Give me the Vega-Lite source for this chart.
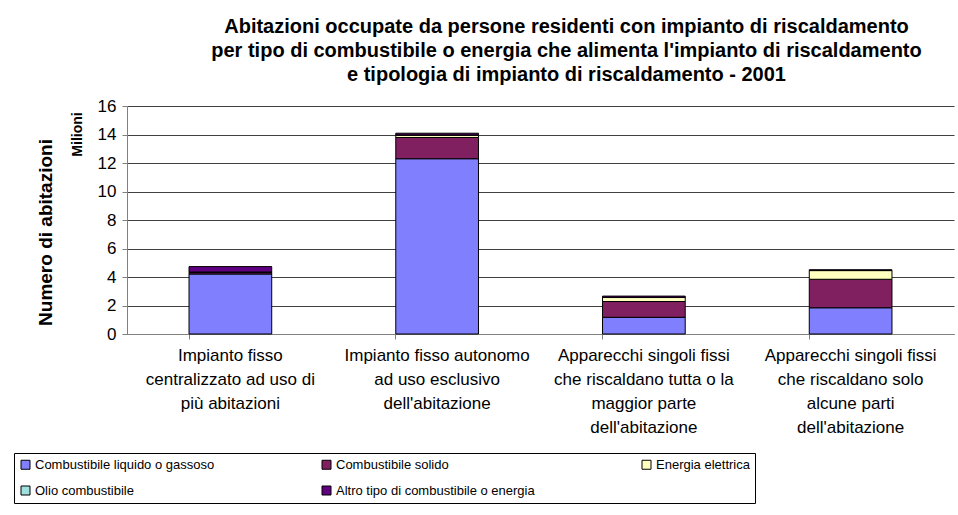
{
  "$schema": "https://vega.github.io/schema/vega-lite/v6.json",
  "autosize": "none",
  "width": 827,
  "height": 228,
  "padding": {"left": 127, "top": 106, "right": 4, "bottom": 181},
  "background": "white",
  "config": {
    "font": "Liberation Sans",
    "view": {"stroke": null}
  },
  "title": {
    "text": ["Abitazioni occupate da persone residenti con impianto di riscaldamento", "per tipo di combustibile o energia che alimenta l'impianto di riscaldamento", "e tipologia di impianto di riscaldamento - 2001"],
    "font": "Liberation Sans",
    "fontSize": 20,
    "fontWeight": "bold",
    "color": "black",
    "lineHeight": 24,
    "anchor": "middle",
    "dx": 26,
    "offset": 12
  },
  "data": {
    "values": [
      {"impianto": "Impianto fisso centralizzato ad uso di più abitazioni", "combustibile": "Combustibile liquido o gassoso", "ordine": 1, "milioni": 4.21},
      {"impianto": "Impianto fisso centralizzato ad uso di più abitazioni", "combustibile": "Combustibile solido", "ordine": 2, "milioni": 0.10},
      {"impianto": "Impianto fisso centralizzato ad uso di più abitazioni", "combustibile": "Energia elettrica", "ordine": 3, "milioni": 0.02},
      {"impianto": "Impianto fisso centralizzato ad uso di più abitazioni", "combustibile": "Olio combustibile", "ordine": 4, "milioni": 0.02},
      {"impianto": "Impianto fisso centralizzato ad uso di più abitazioni", "combustibile": "Altro tipo di combustibile o energia", "ordine": 5, "milioni": 0.38},
      {"impianto": "Impianto fisso autonomo ad uso esclusivo dell'abitazione", "combustibile": "Combustibile liquido o gassoso", "ordine": 1, "milioni": 12.30},
      {"impianto": "Impianto fisso autonomo ad uso esclusivo dell'abitazione", "combustibile": "Combustibile solido", "ordine": 2, "milioni": 1.49},
      {"impianto": "Impianto fisso autonomo ad uso esclusivo dell'abitazione", "combustibile": "Energia elettrica", "ordine": 3, "milioni": 0.16},
      {"impianto": "Impianto fisso autonomo ad uso esclusivo dell'abitazione", "combustibile": "Olio combustibile", "ordine": 4, "milioni": 0.02},
      {"impianto": "Impianto fisso autonomo ad uso esclusivo dell'abitazione", "combustibile": "Altro tipo di combustibile o energia", "ordine": 5, "milioni": 0.12},
      {"impianto": "Apparecchi singoli fissi che riscaldano tutta o la maggior parte dell'abitazione", "combustibile": "Combustibile liquido o gassoso", "ordine": 1, "milioni": 1.17},
      {"impianto": "Apparecchi singoli fissi che riscaldano tutta o la maggior parte dell'abitazione", "combustibile": "Combustibile solido", "ordine": 2, "milioni": 1.11},
      {"impianto": "Apparecchi singoli fissi che riscaldano tutta o la maggior parte dell'abitazione", "combustibile": "Energia elettrica", "ordine": 3, "milioni": 0.28},
      {"impianto": "Apparecchi singoli fissi che riscaldano tutta o la maggior parte dell'abitazione", "combustibile": "Olio combustibile", "ordine": 4, "milioni": 0.01},
      {"impianto": "Apparecchi singoli fissi che riscaldano tutta o la maggior parte dell'abitazione", "combustibile": "Altro tipo di combustibile o energia", "ordine": 5, "milioni": 0.09},
      {"impianto": "Apparecchi singoli fissi che riscaldano solo alcune parti dell'abitazione", "combustibile": "Combustibile liquido o gassoso", "ordine": 1, "milioni": 1.84},
      {"impianto": "Apparecchi singoli fissi che riscaldano solo alcune parti dell'abitazione", "combustibile": "Combustibile solido", "ordine": 2, "milioni": 2.00},
      {"impianto": "Apparecchi singoli fissi che riscaldano solo alcune parti dell'abitazione", "combustibile": "Energia elettrica", "ordine": 3, "milioni": 0.61},
      {"impianto": "Apparecchi singoli fissi che riscaldano solo alcune parti dell'abitazione", "combustibile": "Olio combustibile", "ordine": 4, "milioni": 0.01},
      {"impianto": "Apparecchi singoli fissi che riscaldano solo alcune parti dell'abitazione", "combustibile": "Altro tipo di combustibile o energia", "ordine": 5, "milioni": 0.05}
    ]
  },
  "layer": [
    {
      "mark": {"type": "bar", "stroke": "black", "strokeWidth": 1},
      "encoding": {
        "x": {
          "field": "impianto",
          "type": "nominal",
          "sort": null,
          "scale": {"paddingInner": 0.6, "paddingOuter": 0.3},
          "axis": {
            "title": null,
            "labelAngle": 0,
            "labelFont": "Liberation Sans",
            "labelFontSize": 17,
            "labelColor": "black",
            "labelLineHeight": 24,
            "labelPadding": 8,
            "labelBaseline": "top",
            "labelLimit": 0,
            "bandPosition": 0,
            "tickSize": 5,
            "tickColor": "#808080",
            "domainColor": "#808080",
            "labelExpr": "datum.label == 'Impianto fisso centralizzato ad uso di più abitazioni' ? ['Impianto fisso', 'centralizzato ad uso di', 'più abitazioni'] : datum.label == \"Impianto fisso autonomo ad uso esclusivo dell'abitazione\" ? ['Impianto fisso autonomo', 'ad uso esclusivo', \"dell'abitazione\"] : datum.label == \"Apparecchi singoli fissi che riscaldano tutta o la maggior parte dell'abitazione\" ? ['Apparecchi singoli fissi', 'che riscaldano tutta o la', 'maggior parte', \"dell'abitazione\"] : ['Apparecchi singoli fissi', 'che riscaldano solo', 'alcune parti', \"dell'abitazione\"]"
          }
        },
        "y": {
          "field": "milioni",
          "type": "quantitative",
          "stack": "zero",
          "scale": {"domain": [0, 16], "nice": false},
          "axis": {
            "title": "Numero di abitazioni",
            "titleFont": "Liberation Sans",
            "titleFontSize": 19,
            "titleFontWeight": "bold",
            "titleColor": "black",
            "titleX": -82,
            "titleY": 126,
            "titleAlign": "center",
            "titleBaseline": "middle",
            "titleAngle": 270,
            "values": [0, 2, 4, 6, 8, 10, 12, 14, 16],
            "labelFont": "Liberation Sans",
            "labelFontSize": 17,
            "labelColor": "black",
            "labelPadding": 6,
            "tickSize": 5,
            "tickColor": "#808080",
            "domainColor": "#808080",
            "grid": true,
            "gridColor": "#404040",
            "gridWidth": 1
          }
        },
        "color": {
          "field": "combustibile",
          "type": "nominal",
          "sort": ["Combustibile liquido o gassoso", "Combustibile solido", "Energia elettrica", "Olio combustibile", "Altro tipo di combustibile o energia"],
          "scale": {
            "domain": ["Combustibile liquido o gassoso", "Combustibile solido", "Energia elettrica", "Olio combustibile", "Altro tipo di combustibile o energia"],
            "range": ["#8080FF", "#802060", "#FFFFC0", "#A0E0E0", "#600080"]
          },
          "legend": {
            "title": null,
            "orient": "none",
            "legendX": -113,
            "legendY": 347,
            "direction": "horizontal",
            "columns": 3,
            "columnPadding": 105,
            "rowPadding": 12,
            "padding": 5,
            "strokeColor": "black",
            "fillColor": "white",
            "symbolType": "square",
            "symbolSize": 81,
            "symbolStrokeColor": "black",
            "symbolStrokeWidth": 1,
            "symbolOpacity": 1,
            "labelFont": "Liberation Sans",
            "labelFontSize": 13,
            "labelColor": "black",
            "labelOffset": 3,
            "labelLimit": 0
          }
        },
        "order": {"field": "ordine", "type": "quantitative", "sort": "ascending"}
      }
    },
    {
      "mark": {"type": "rule", "opacity": 0},
      "encoding": {
        "y": {
          "datum": 0,
          "type": "quantitative",
          "axis": {
            "orient": "left",
            "title": "Milioni",
            "titleFont": "Liberation Sans",
            "titleFontSize": 14,
            "titleFontWeight": "bold",
            "titleColor": "black",
            "titleX": -50,
            "titleY": 28,
            "titleAlign": "center",
            "titleBaseline": "middle",
            "titleAngle": 270,
            "labels": false,
            "ticks": false,
            "domain": false,
            "grid": false
          }
        }
      }
    }
  ],
  "resolve": {"axis": {"y": "independent"}}
}
